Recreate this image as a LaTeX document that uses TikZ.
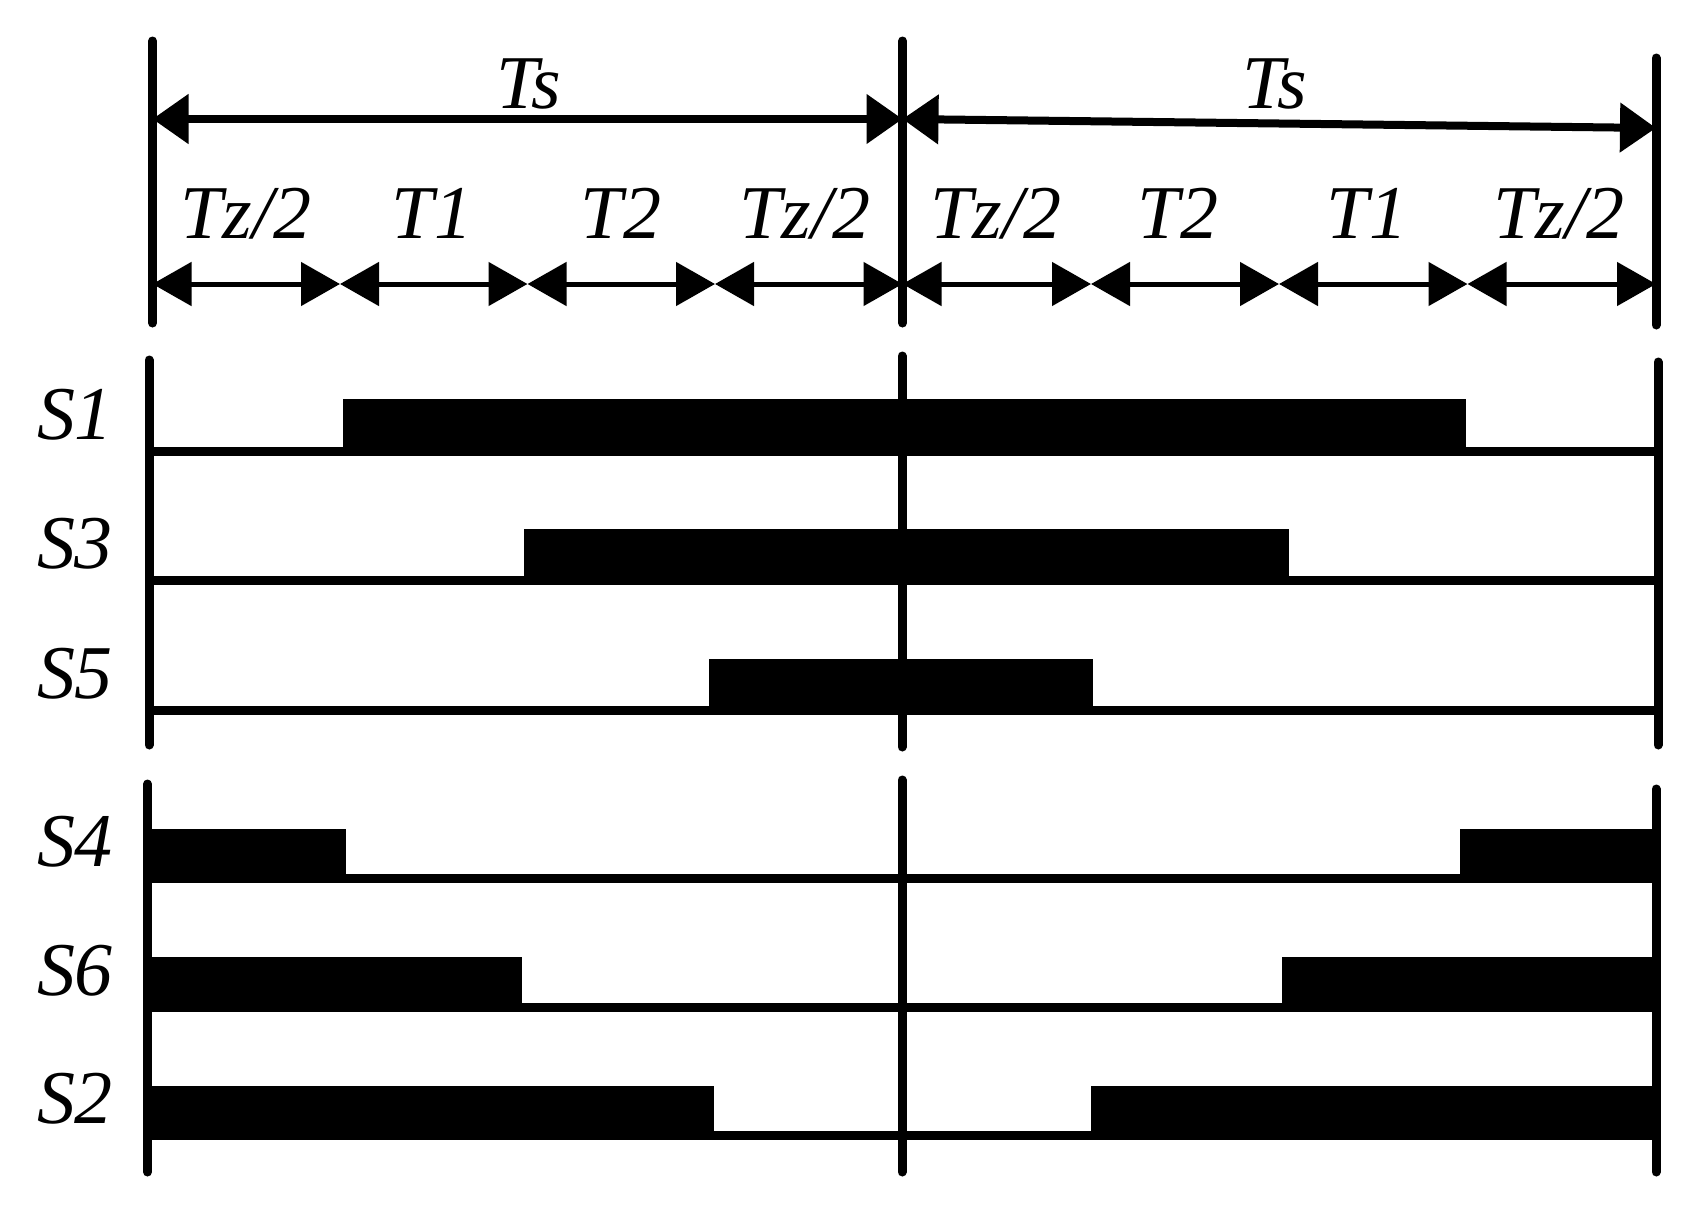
\documentclass[tikz,border=0pt]{standalone}
\usepackage{fontspec}
\setmainfont{Liberation Serif}
\usetikzlibrary{arrows.meta}
\begin{document}
\begin{tikzpicture}[x=0.5pt,y=-0.5pt,
  vline/.style={line width=4.5pt,line cap=round},
  tsarrow/.style={line width=4pt,{Triangle[length=18pt,width=24pt]}-{Triangle[length=18pt,width=24pt]}},
  segarrow/.style={line width=2.5pt,{Triangle[length=19.5pt,width=21.5pt]}-{Triangle[length=19.5pt,width=21.5pt]}},
  lbl/.style={font=\fontsize{38}{40}\selectfont\itshape, inner sep=0pt, anchor=base},
  sigline/.style={line width=4.5pt},
  sigbar/.style={fill=black, draw=none}
]
\useasboundingbox (0,0) rectangle (1694,1221);

% ---------- top timing section ----------
\coordinate (Ltop) at (152.5,41);   \coordinate (Lbot) at (152.5,323);
\coordinate (Mtop) at (902.5,41);   \coordinate (Mbot) at (902.5,323);
\coordinate (Rtop) at (1656,58);    \coordinate (Rbot) at (1656,325);
\draw[vline] (Ltop) -- (Lbot);
\draw[vline] (Mtop) -- (Mbot);
\draw[vline] (Rtop) -- (Rbot);

\coordinate (TsA) at (152.5,119);
\coordinate (TsB) at (902.5,119);
\coordinate (TsC) at (1656,128);
\draw[tsarrow] (TsA) -- (TsB);
\draw[tsarrow] (TsB) -- (TsC);
\node[lbl] (ts1) at (529,108) {Ts};
\node[lbl] (ts2) at (1275,108) {Ts};

\foreach \n/\x in {0/152.5,1/340,2/527.5,3/715,4/902.5,5/1091,6/1279,7/1467.5,8/1656}
  \coordinate (k\n) at (\x,284);
\foreach \a/\b in {0/1,1/2,2/3,3/4,4/5,5/6,6/7,7/8}
  \draw[segarrow] (k\a) -- (k\b);

\node[lbl] (l1) at (246,238) {Tz/2};
\node[lbl] (l2) at (432,238) {T1};
\node[lbl] (l3) at (621,238) {T2};
\node[lbl] (l4) at (805,238) {Tz/2};
\node[lbl] (l5) at (996,238) {Tz/2};
\node[lbl] (l6) at (1178,238) {T2};
\node[lbl] (l7) at (1367,238) {T1};
\node[lbl] (l8) at (1559,238) {Tz/2};

% ---------- upper switch section ----------
\coordinate (uLt) at (149,360);  \coordinate (uLb) at (149,745);
\coordinate (uMt) at (902,356);  \coordinate (uMb) at (902,747);
\coordinate (uRt) at (1658,362); \coordinate (uRb) at (1658,745);

\foreach \name/\y/\xa/\xb in {S1/451/343/1466, S3/580.5/524/1289, S5/710.5/709/1093}{
  \fill[sigbar] (\xa,\y-52) rectangle (\xb,\y+4.5);
  \draw[sigline] (149,\y) -- (1658,\y);
  \node[lbl] (lab\name) at (75,\y-12) {\name};
}
\draw[vline] (uLt) -- (uLb);
\draw[vline] (uMt) -- (uMb);
\draw[vline] (uRt) -- (uRb);

% ---------- lower switch section ----------
\coordinate (dLt) at (147.5,784); \coordinate (dLb) at (147.5,1172);
\coordinate (dMt) at (902,780);   \coordinate (dMb) at (902,1172);
\coordinate (dRt) at (1656,789);  \coordinate (dRb) at (1656,1172);

\foreach \name/\y/\xa/\xb in {S4/878.5/346/1460, S6/1007/522/1282, S2/1135.5/714/1091}{
  \fill[sigbar] (147.5,\y-50) rectangle (\xa,\y+4.5);
  \fill[sigbar] (\xb,\y-50) rectangle (1660,\y+4.5);
  \draw[sigline] (147.5,\y) -- (1658,\y);
  \node[lbl] (lab\name) at (75,\y-12) {\name};
}
\draw[vline] (dLt) -- (dLb);
\draw[vline] (dMt) -- (dMb);
\draw[vline] (dRt) -- (dRb);
\end{tikzpicture}
\end{document}
